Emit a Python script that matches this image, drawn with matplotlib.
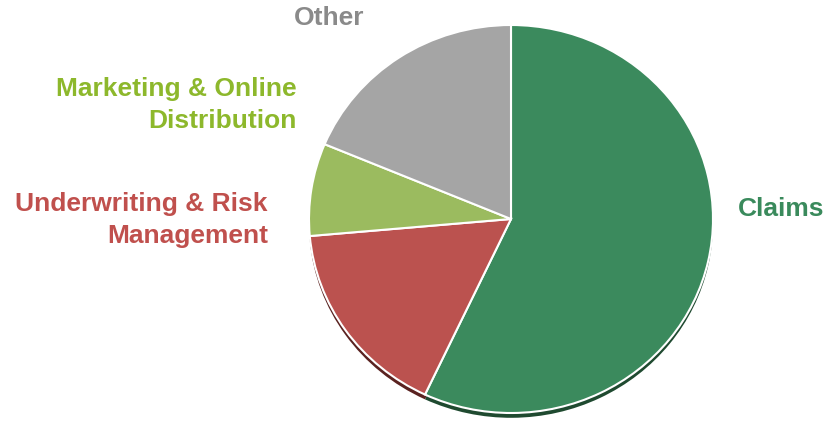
import matplotlib.pyplot as plt

labels = ['Claims', 'Underwriting & Risk\nManagement', 'Marketing & Online\nDistribution', 'Other']
shares = [57, 16.6, 7.7, 18.7]
colors = ['#3b8a5d', '#bb524f', '#9bbb5f', '#a5a5a5']
shadow_colors = ['#1f4a30', '#5a2220', '#4a5a2e', '#555555']
text_colors = ['#3a8a5c', '#c0504d', '#8db82c', '#8a8a8a']

plt.rcParams['font.family'] = ['Liberation Sans', 'DejaVu Sans']

W, H = 828, 425
sy = 194.0 / 202.0  # pie is slightly flattened vertically

fig = plt.figure(figsize=(W / 100, H / 100), dpi=100)
ax = fig.add_axes([0, 0, 1, 1])


def py(y):
    # pixel row (from top) -> data y
    return (H - y) / sy


cx, cy, r = 511, py(219), 202

# dark shadow under the pie
ax.pie(shares, colors=shadow_colors, startangle=90, counterclock=False,
       radius=r, center=(cx, cy - 5), wedgeprops=dict(linewidth=0), frame=True)
ax.pie(shares, colors=colors, startangle=90, counterclock=False,
       radius=r, center=(cx, cy),
       wedgeprops=dict(edgecolor='white', linewidth=1.5), frame=True)
ax.set_aspect('auto')
ax.set_xlim(0, W)
ax.set_ylim(0, H / sy)
ax.axis('off')

fs = 19
kw = dict(fontsize=fs, fontweight='bold', va='center', linespacing=1.37)
ax.text(738, py(209), labels[0], color=text_colors[0], ha='left', **kw)
ax.text(268, py(220), labels[1], color=text_colors[1], ha='right', **kw)
ax.text(297, py(105), labels[2], color=text_colors[2], ha='right', **kw)
ax.text(329, py(18), labels[3], color=text_colors[3], ha='center', **kw)

fig.savefig('out.png', dpi=100)
